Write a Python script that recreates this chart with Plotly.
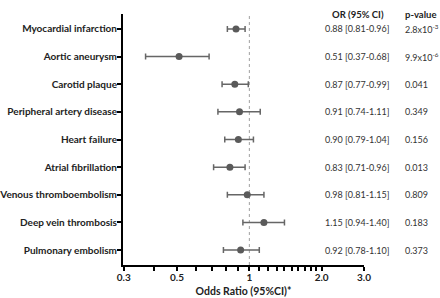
import math
import plotly.graph_objects as go

outcomes = ["Myocardial infarction", "Aortic aneurysm", "Carotid plaque",
            "Peripheral artery disease", "Heart failure", "Atrial fibrillation",
            "Venous thromboembolism", "Deep vein thrombosis", "Pulmonary embolism"]
or_vals = [0.88, 0.51, 0.87, 0.91, 0.90, 0.83, 0.98, 1.15, 0.92]
ci_low = [0.81, 0.37, 0.77, 0.74, 0.79, 0.71, 0.81, 0.94, 0.78]
ci_high = [0.96, 0.68, 0.99, 1.11, 1.04, 0.96, 1.15, 1.40, 1.10]
p_values = ["2.8x10<sup>-3</sup>", "9.9x10<sup>-6</sup>", "0.041", "0.349", "0.156",
            "0.013", "0.809", "0.183", "0.373"]
tick_vals = [0.3, 0.4, 0.5, 0.6, 0.7, 0.8, 0.9, 1.0, 1.1, 1.2, 1.3, 1.4, 1.5,
             1.6, 1.7, 1.8, 1.9, 2.0, 3.0]
tick_labels = {0.3: "0.3", 0.5: "0.5", 1.0: "1", 2.0: "2.0", 3.0: "3.0"}

n = len(outcomes)
ypos = [n - i for i in range(n)]

FONT = "Lato, Liberation Sans, Arial, sans-serif"

fig = go.Figure()
fig.add_trace(go.Scatter(
    x=or_vals, y=ypos, mode="markers",
    marker=dict(color="#5a5a5a", size=7),
    error_x=dict(type="data", symmetric=False,
                 array=[h - o for h, o in zip(ci_high, or_vals)],
                 arrayminus=[o - l for o, l in zip(or_vals, ci_low)],
                 color="#666666", thickness=1.5, width=3),
    showlegend=False, hoverinfo="skip"))

fig.add_shape(type="line", x0=1, x1=1, xref="x", y0=0, y1=1, yref="paper",
              line=dict(color="#a0a0a0", width=1, dash="dot"), layer="below")

for i in range(n):
    fig.add_annotation(x=0.975, xref="paper", y=ypos[i], yref="y",
                       text=f"{or_vals[i]:.2f} [{ci_low[i]:.2f}-{ci_high[i]:.2f}]",
                       showarrow=False, xanchor="center", yanchor="middle",
                       font=dict(size=9, color="#333333", family=FONT))
    fig.add_annotation(x=1.162, xref="paper", y=ypos[i], yref="y",
                       text=p_values[i], showarrow=False,
                       xanchor="left", yanchor="middle",
                       font=dict(size=9, color="#333333", family=FONT))

fig.add_annotation(x=0.975, xref="paper", y=1.0, yref="paper", text="<b>OR (95% CI)</b>",
                   showarrow=False, xanchor="center", yanchor="middle",
                   font=dict(size=9.5, color="#222222", family=FONT))
fig.add_annotation(x=1.162, xref="paper", y=1.0, yref="paper", text="<b>p-value</b>",
                   showarrow=False, xanchor="left", yanchor="middle",
                   font=dict(size=9.5, color="#222222", family=FONT))

fig.update_xaxes(type="log", range=[math.log10(0.298), math.log10(3.0)],
                 tickvals=tick_vals, automargin=False, ticklabelstandoff=-2,
                 ticktext=[f"<b>{tick_labels[v]}</b>" if v in tick_labels else "" for v in tick_vals],
                 ticks="outside", ticklen=4, tickwidth=1.5, tickcolor="#000",
                 showline=True, linecolor="#000", linewidth=2,
                 showgrid=False, zeroline=False,
                 tickfont=dict(size=10, color="#222", family=FONT),
                 title=dict(text="<b>Odds Ratio (95%CI)*</b>", standoff=6,
                            font=dict(size=10.5, color="#222", family=FONT)))
fig.update_yaxes(range=[0.46, 9.54], tickvals=ypos, automargin=False,
                 ticklabelstandoff=-2,
                 ticktext=[f"<b>{o}</b>" for o in outcomes],
                 ticks="outside", ticklen=4, tickwidth=1.5, tickcolor="#000",
                 showline=True, linecolor="#000", linewidth=2,
                 showgrid=False, zeroline=False,
                 tickfont=dict(size=10, color="#222", family=FONT))

fig.update_layout(width=440, height=298, margin=dict(l=123, r=76, t=14, b=33),
                  plot_bgcolor="white", paper_bgcolor="white",
                  font=dict(family=FONT))
fig.write_html("out.html", config={"displayModeBar": False},
               post_script="document.body.style.margin='0';")
